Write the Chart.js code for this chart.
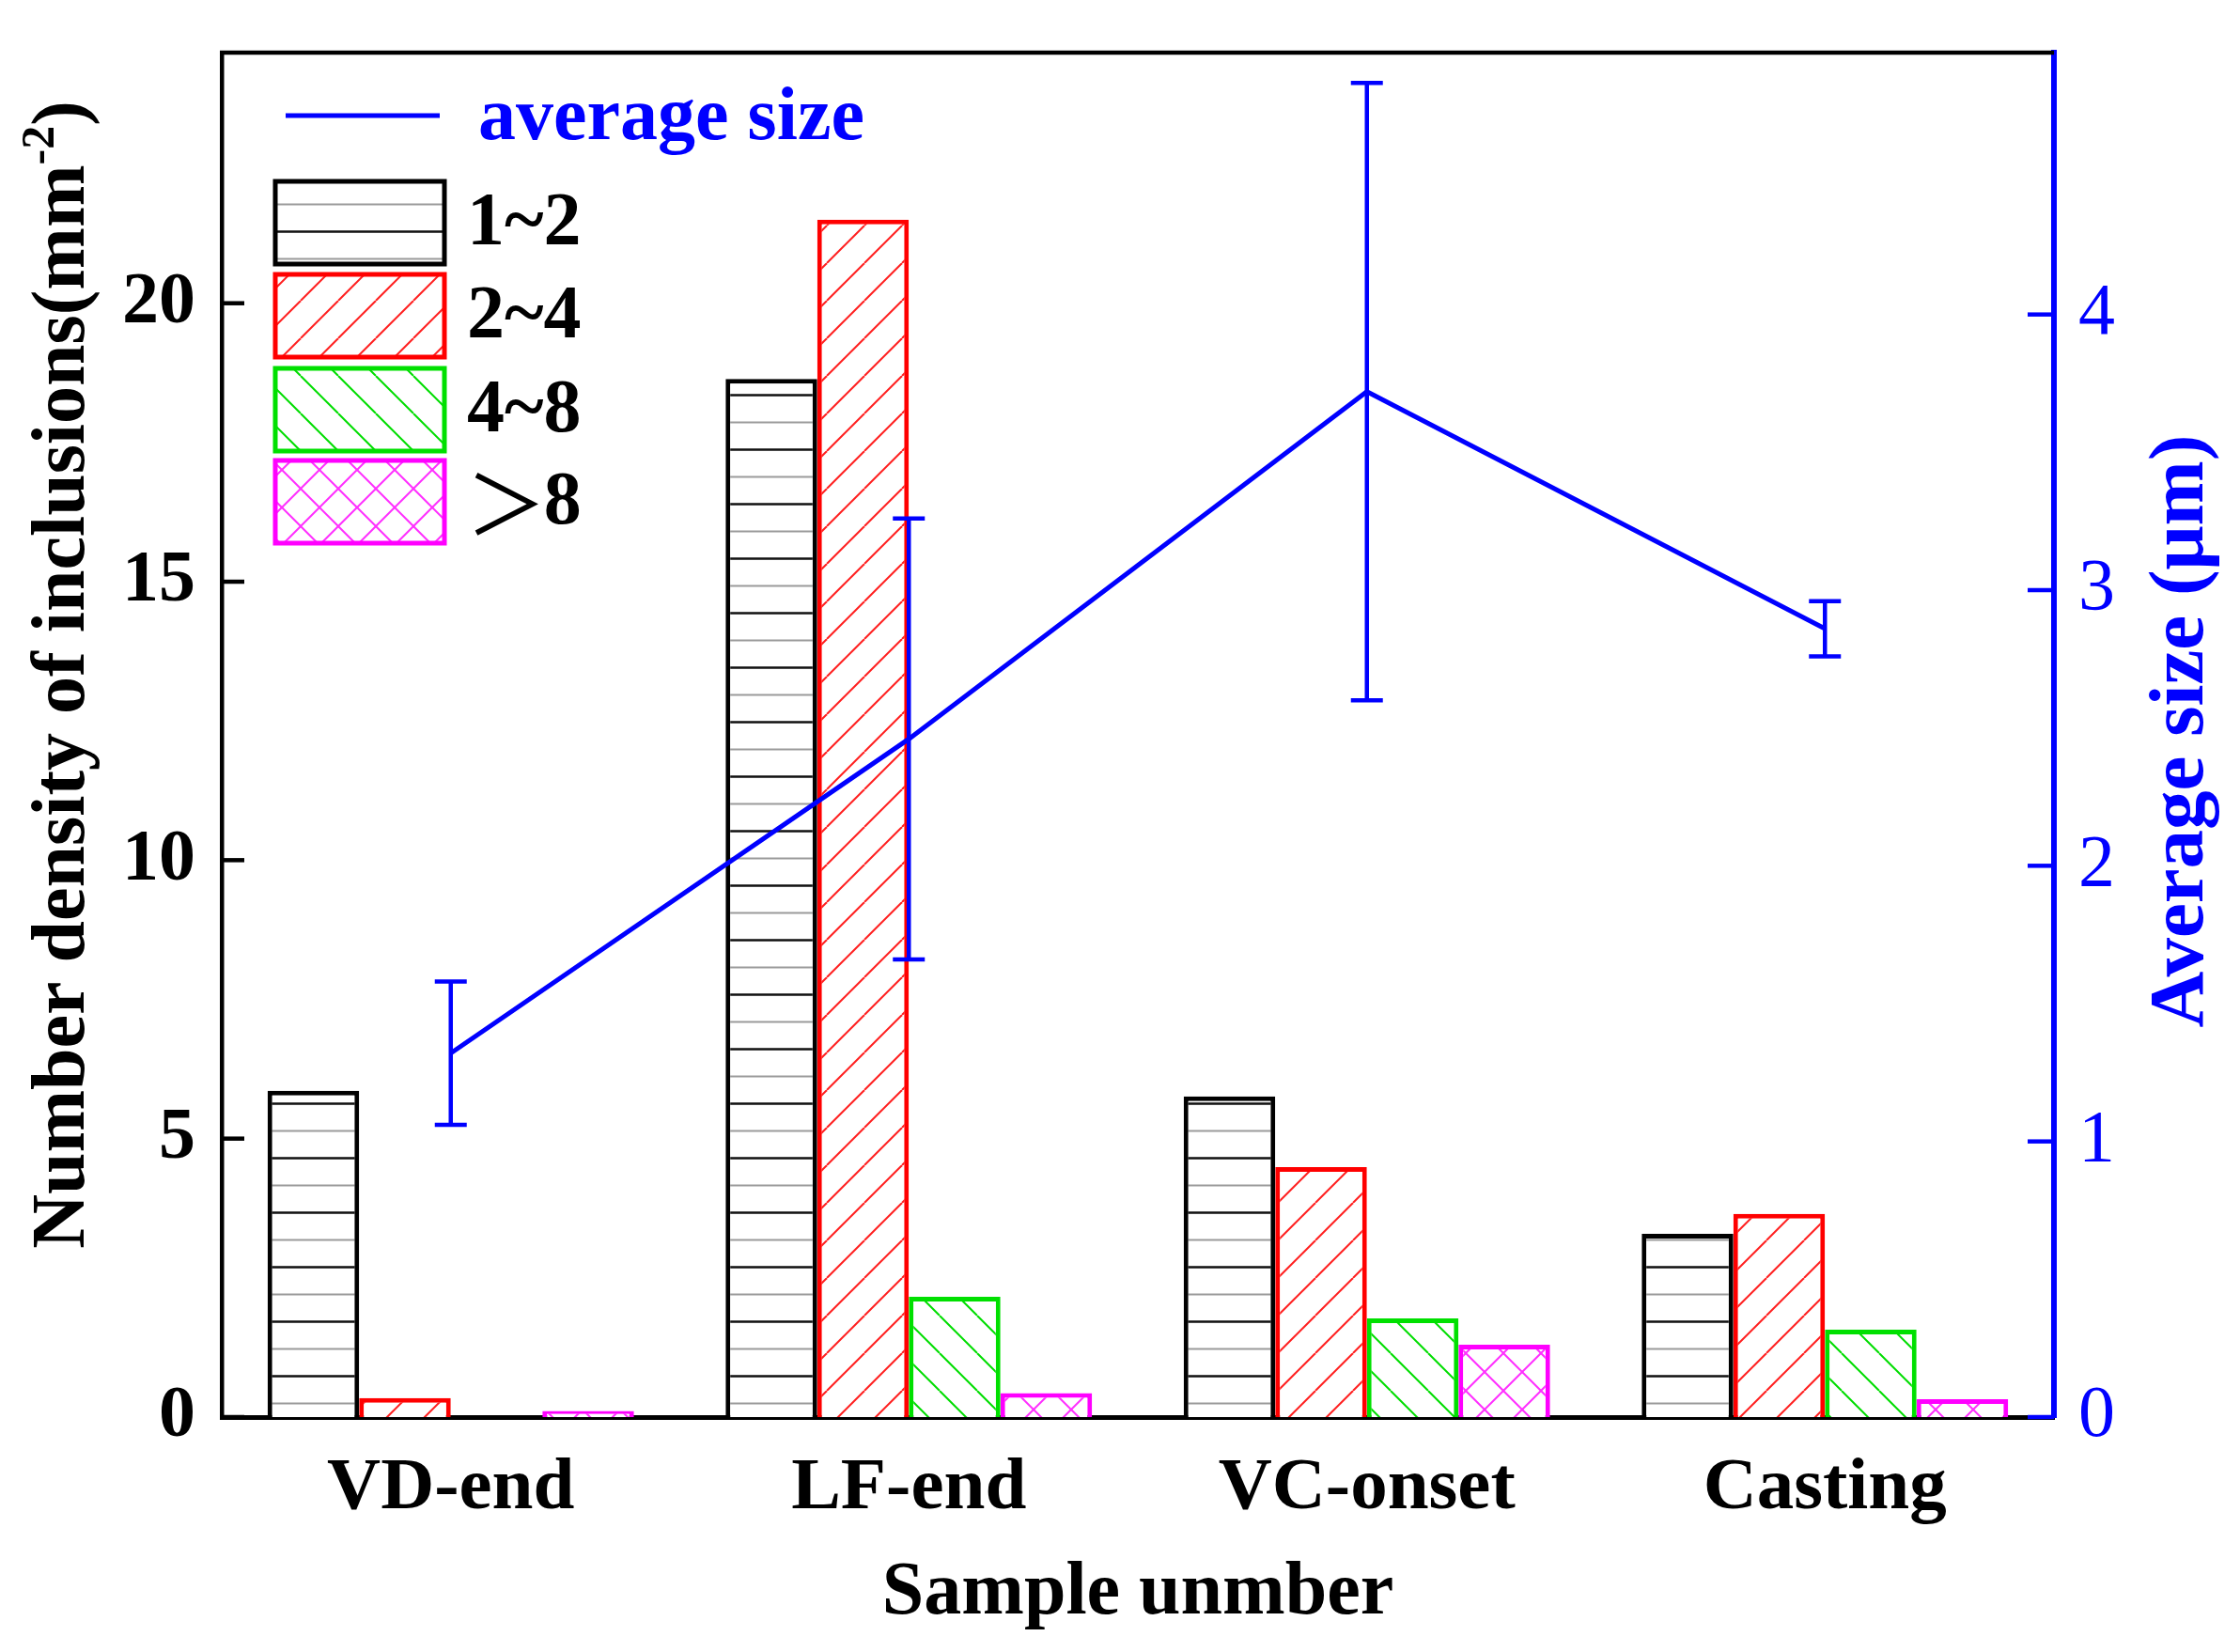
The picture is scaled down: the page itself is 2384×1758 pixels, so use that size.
<!DOCTYPE html>
<html><head><meta charset="utf-8">
<script src="https://cdn.jsdelivr.net/npm/chart.js@4.4.1/dist/chart.umd.min.js"></script>
<style>html,body{margin:0;padding:0;background:#fff;} canvas{display:block;}</style>
</head><body>
<canvas id="c" width="2384" height="1758"></canvas>
<script>
// ---- data ----
const categories = ['VD-end', 'LF-end', 'VC-onset', 'Casting'];
const seriesNames = ['1~2', '2~4', '4~8', '＞8'];
const density1to2 = [5.86, 18.64, 5.76, 3.29];
const density2to4 = [0.34, 21.5, 4.49, 3.65];
const density4to8 = [0, 2.16, 1.77, 1.57];
const densityOver8 = [0.11, 0.43, 1.30, 0.32];
const avgSize = [1.32, 2.46, 3.72, 2.86];
const avgSizeErr = [0.26, 0.80, 1.12, 0.10];
const leftTickValues = [0, 5, 10, 15, 20];
const rightTickValues = [0, 1, 2, 3, 4];
const avgLabel = 'average size';

const SERIF = '"Liberation Serif", "Times New Roman", serif';

function makePattern(kind, color) {
  const c = document.createElement('canvas');
  const w = kind === 'h' ? 10 : 40, h = kind === 'h' ? 58 : 40;
  c.width = w; c.height = h;
  const g = c.getContext('2d');
  g.fillStyle = '#fff'; g.fillRect(0, 0, w, h);
  const line = (a, b, cc, d) => { g.beginPath(); g.moveTo(a, b); g.lineTo(cc, d); g.stroke(); };
  g.strokeStyle = color; g.lineWidth = 2;
  if (kind === 'h') {
    g.strokeStyle = '#111'; g.lineWidth = 2.5; line(0, 14.5, w, 14.5);
    g.strokeStyle = '#9a9a9a'; g.lineWidth = 2; line(0, 43.5, w, 43.5);
  }
  if (kind === 'f' || kind === 'x') { for (const o of [-w, 0, w]) line(o, h, o + w, 0); }
  if (kind === 'b' || kind === 'x') { for (const o of [-w, 0, w]) line(o, 0, o + w, h); }
  return g.createPattern(c, 'repeat');
}

const barColors = ['#000000', '#ff0000', '#00e000', '#ff00ff'];
const barPatterns = [makePattern('h', '#000'), makePattern('f', '#ff2020'), makePattern('b', '#00dd00'), makePattern('x', '#ff30ff')];
const barData = [density1to2, density2to4, density4to8, densityOver8];

const datasets = barData.map((d, i) => ({
  type: 'bar', label: seriesNames[i], data: d, yAxisID: 'y',
  backgroundColor: barPatterns[i], borderColor: barColors[i], borderWidth: 5,
  categoryPercentage: 0.8, barPercentage: 1.0, order: 2
}));
datasets.push({
  type: 'line', label: avgLabel, data: avgSize, yAxisID: 'y1',
  borderColor: '#0000ff', borderWidth: 5, pointRadius: 0, tension: 0, fill: false, order: 0
});

const framePlugin = {
  id: 'frame',
  afterDatasetsDraw(chart) {
    const ctx = chart.ctx, a = chart.chartArea;
    const y = chart.scales.y, y1 = chart.scales.y1;
    ctx.save();
    // error bars
    const meta = chart.getDatasetMeta(4);
    ctx.strokeStyle = '#0000ff'; ctx.lineWidth = 4.5;
    meta.data.forEach((pt, i) => {
      const x = pt.x;
      const yt = y1.getPixelForValue(avgSize[i] + avgSizeErr[i]);
      const yb = y1.getPixelForValue(avgSize[i] - avgSizeErr[i]);
      ctx.beginPath(); ctx.moveTo(x, yt); ctx.lineTo(x, yb);
      ctx.moveTo(x - 17, yt); ctx.lineTo(x + 17, yt);
      ctx.moveTo(x - 17, yb); ctx.lineTo(x + 17, yb);
      ctx.stroke();
    });
    // top frame
    ctx.strokeStyle = '#000'; ctx.lineWidth = 4.5;
    ctx.beginPath(); ctx.moveTo(a.left - 2, a.top); ctx.lineTo(a.right, a.top); ctx.stroke();
    // inward ticks
    ctx.lineWidth = 4.5;
    y.ticks.forEach(t => {
      const p = y.getPixelForValue(t.value);
      ctx.beginPath(); ctx.moveTo(a.left, p); ctx.lineTo(a.left + 24, p); ctx.stroke();
    });
    ctx.strokeStyle = '#0000ff';
    y1.ticks.forEach(t => {
      const p = y1.getPixelForValue(t.value);
      ctx.beginPath(); ctx.moveTo(a.right, p); ctx.lineTo(a.right - 28, p); ctx.stroke();
    });
    ctx.restore();
  },
  afterDraw(chart) {
    const ctx = chart.ctx;
    ctx.save();
    // legend
    const lx = 293, bw = 180, bh = 88;
    const tops = [193, 292, 392, 490];
    ctx.strokeStyle = '#0000ff'; ctx.lineWidth = 5;
    ctx.beginPath(); ctx.moveTo(304, 123); ctx.lineTo(468, 123); ctx.stroke();
    ctx.fillStyle = '#0000ff'; ctx.font = 'bold 80px ' + SERIF;
    ctx.textBaseline = 'middle'; ctx.textAlign = 'left';
    ctx.fillText(chart.data.datasets[4].label, 509, 127);
    for (let i = 0; i < 4; i++) {
      const ds = chart.data.datasets[i];
      ctx.fillStyle = ds.backgroundColor;
      ctx.fillRect(lx, tops[i], bw, bh);
      ctx.strokeStyle = ds.borderColor; ctx.lineWidth = 5;
      ctx.strokeRect(lx, tops[i], bw, bh);
      ctx.fillStyle = '#000';
      const cy = tops[i] + bh / 2 + 2;
      const lab = ds.label;
      if (lab.startsWith('＞')) {
        // full-width '>' drawn thin, as in the original figure
        ctx.font = 'normal 86px "Noto Sans CJK SC", "Noto Sans CJK JP", sans-serif';
        const wGt = ctx.measureText('＞').width;
        ctx.fillText('＞', 497 - wGt * 0.12 + 9, cy);
        ctx.font = 'bold 80px ' + SERIF;
        ctx.fillText(lab.slice(1), 497 + wGt * 0.74 + 18, cy);
      } else {
        ctx.font = 'bold 80px ' + SERIF;
        ctx.fillText(lab, 497, cy);
      }
    }
    // left axis title with superscript
    ctx.fillStyle = '#000';
    ctx.translate(68, 718); ctx.rotate(-Math.PI / 2);
    const main = 'Number density of inclusions(mm', sup = '-2', end = ')';
    ctx.font = 'bold 80px ' + SERIF; const w1 = ctx.measureText(main).width, w3 = ctx.measureText(end).width;
    ctx.font = 'bold 50px ' + SERIF; const w2 = ctx.measureText(sup).width;
    let x0 = -(w1 + w2 + w3) / 2;
    ctx.textAlign = 'left'; ctx.textBaseline = 'middle';
    ctx.font = 'bold 80px ' + SERIF; ctx.fillText(main, x0, 0);
    ctx.font = 'bold 50px ' + SERIF; ctx.fillText(sup, x0 + w1, -24);
    ctx.font = 'bold 80px ' + SERIF; ctx.fillText(end, x0 + w1 + w2, 0);
    ctx.setTransform(1, 0, 0, 1, 0, 0);
    // right axis title
    ctx.fillStyle = '#0000ff';
    ctx.translate(2323, 778); ctx.rotate(-Math.PI / 2);
    ctx.textAlign = 'center'; ctx.font = 'bold 83px ' + SERIF;
    ctx.fillText('Average size (μm)', 0, 0);
    ctx.restore();
  }
};

new Chart(document.getElementById('c'), {
  data: { labels: categories, datasets },
  options: {
    responsive: false, devicePixelRatio: 1, animation: false,
    layout: { padding: { top: 56, left: 0, right: 0, bottom: 0 } },
    plugins: { legend: { display: false }, tooltip: { enabled: false } },
    scales: {
      x: {
        type: 'category', offset: true,
        grid: { display: false, drawTicks: false },
        border: { display: true, color: '#000', width: 5 },
        ticks: { color: '#000', padding: 37, font: { family: SERIF, weight: 'bold', size: 79, lineHeight: 1 } },
        title: { display: true, text: 'Sample unmber', color: '#000', padding: { top: 0, bottom: 22 },
                 font: { family: SERIF, weight: 'bold', size: 80, lineHeight: 1 } },
        afterFit(s) { s.height = 250; s.paddingLeft = 0; s.paddingRight = 0; }
      },
      y: {
        type: 'linear', position: 'left', min: 0, max: 24.5,
        grid: { display: false, drawTicks: false },
        border: { display: true, color: '#000', width: 4.5 },
        ticks: { stepSize: 5, color: '#000', padding: 28, font: { family: SERIF, weight: 'bold', size: 78, lineHeight: 1 } },
        afterBuildTicks(s) { s.ticks = leftTickValues.map(v => ({ value: v })); },
        afterFit(s) { s.width = 236; s.paddingTop = 0; s.paddingBottom = 0; }
      },
      y1: {
        type: 'linear', position: 'right', min: 0, max: 4.95,
        grid: { display: false, drawTicks: false },
        border: { display: true, color: '#0000ff', width: 6 },
        ticks: { stepSize: 1, color: '#0000ff', padding: 26, font: { family: SERIF, weight: 'normal', size: 78, lineHeight: 1 } },
        afterBuildTicks(s) { s.ticks = rightTickValues.map(v => ({ value: v })); },
        afterFit(s) { s.width = 198; s.paddingTop = 0; s.paddingBottom = 0; }
      }
    }
  },
  plugins: [framePlugin]
});
</script>
</body></html>
